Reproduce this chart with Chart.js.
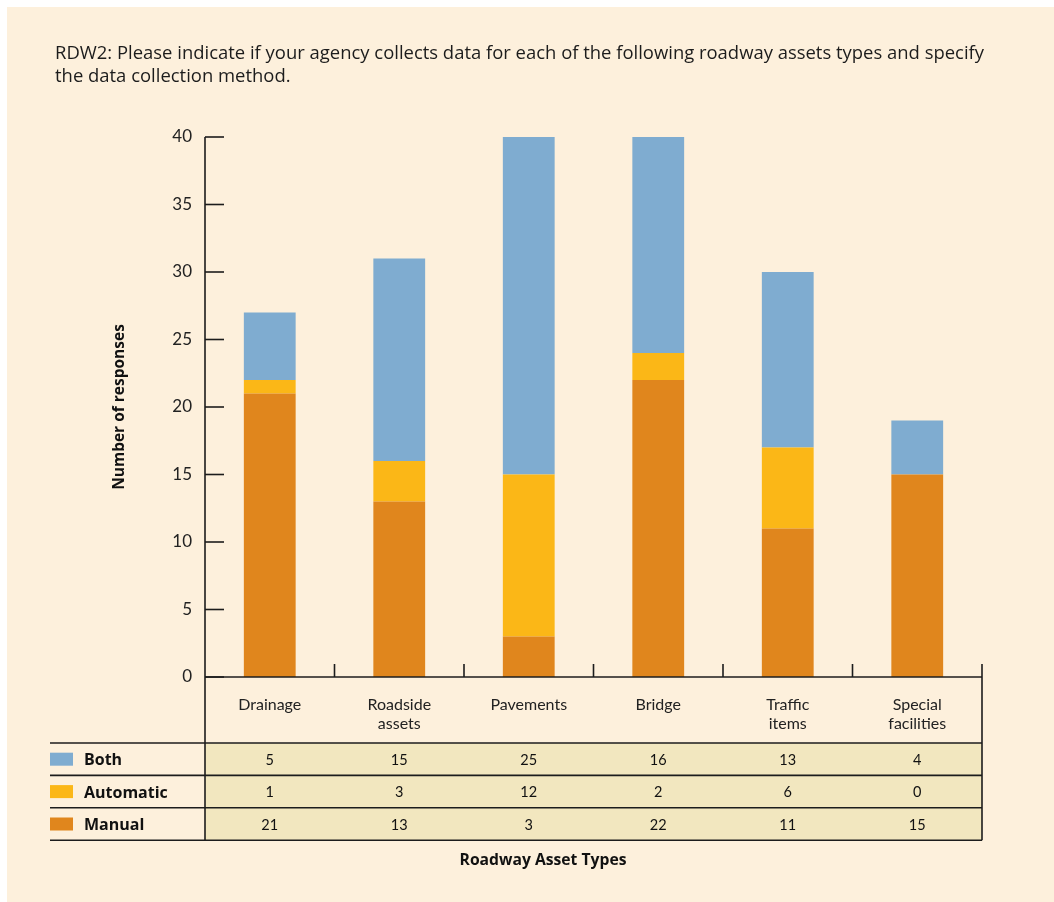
<!DOCTYPE html>
<html>
<head>
<meta charset="utf-8">
<script src="https://cdn.jsdelivr.net/npm/chart.js@4.4.1/dist/chart.umd.min.js"></script>
<style>
  html, body { margin: 0; padding: 0; background: #fff; }
  canvas { display: block; }
</style>
</head>
<body>
<canvas id="chart" width="1054" height="902"></canvas>
<script>
// ===== DATA =====
const categories = [['Drainage'], ['Roadside', 'assets'], ['Pavements'], ['Bridge'], ['Traffic', 'items'], ['Special', 'facilities']];
const both = [5, 15, 25, 16, 13, 4];
const automatic = [1, 3, 12, 2, 6, 0];
const manual = [21, 13, 3, 22, 11, 15];
const yMax = 40;
const yStep = 5;

const titleLines = [
  'RDW2: Please indicate if your agency collects data for each of the following roadway assets types and specify',
  'the data collection method.'
];
const xTitle = 'Roadway Asset Types';
const yTitle = 'Number of responses';

const COLORS = {
  both: '#7facd0',
  automatic: '#fbb717',
  manual: '#e0861d',
  bg: '#fdf0dc',
  cell: '#f2e7bf',
  ink: '#1c1c1c'
};
const FONT = 'Lato';
const FONT_WIDE = '"Open Sans"';

// table rows in display order (top to bottom)
const tableRows = [
  { label: 'Both', data: both, color: COLORS.both },
  { label: 'Automatic', data: automatic, color: COLORS.automatic },
  { label: 'Manual', data: manual, color: COLORS.manual }
];

// ===== PLUGIN: background, axes, data table =====
const tablePlugin = {
  id: 'tablePlugin',
  beforeDraw(chart) {
    const ctx = chart.ctx;
    ctx.save();
    ctx.fillStyle = '#fff';
    ctx.fillRect(0, 0, chart.width, chart.height);
    ctx.fillStyle = COLORS.bg;
    ctx.fillRect(7, 7, chart.width - 7, chart.height - 7);

    // title
    ctx.fillStyle = COLORS.ink;
    ctx.font = `18.45px ${FONT_WIDE}`;
    ctx.textAlign = 'left';
    ctx.textBaseline = 'alphabetic';
    titleLines.forEach((t, i) => ctx.fillText(t, 55, 59 + i * 23));

    // table cells
    const { left, right } = chart.chartArea;
    const rowTop = 743, rowH = 32.4;
    ctx.fillStyle = COLORS.cell;
    ctx.fillRect(left, rowTop, right - left, rowH * tableRows.length);
    ctx.restore();
  },
  afterDraw(chart) {
    const ctx = chart.ctx;
    const { left, right, top, bottom } = chart.chartArea;
    const x = chart.scales.x, y = chart.scales.y;
    const rowTop = 743, rowH = 32.4;
    const tableBottom = rowTop + rowH * tableRows.length;
    ctx.save();
    ctx.strokeStyle = COLORS.ink;
    ctx.lineWidth = 1.6;

    const line = (x1, y1, x2, y2) => {
      ctx.beginPath(); ctx.moveTo(x1, y1); ctx.lineTo(x2, y2); ctx.stroke();
    };

    // y axis through table, x axis
    line(left, top, left, tableBottom);
    line(left, bottom, right, bottom);
    // y tick marks pointing inward
    for (let v = 0; v <= yMax; v += yStep) {
      const py = y.getPixelForValue(v);
      line(left, py, left + 19, py);
    }
    // category boundary ticks pointing up
    const half = (x.getPixelForValue(1) - x.getPixelForValue(0)) / 2;
    categories.forEach((c, i) => {
      const px = x.getPixelForValue(i) + half;
      if (i === categories.length - 1) {
        line(px, bottom - 13, px, tableBottom);
      } else {
        line(px, bottom - 13, px, bottom);
      }
    });

    // row lines
    for (let r = 0; r <= tableRows.length; r++) {
      const py = rowTop + r * rowH;
      line(50, py, right, py);
    }

    // legend + values
    ctx.textBaseline = 'middle';
    tableRows.forEach((row, r) => {
      const cy = rowTop + r * rowH + rowH / 2;
      ctx.fillStyle = row.color;
      ctx.fillRect(50, cy - 6.5, 23, 13);
      ctx.fillStyle = '#111';
      ctx.font = `bold 16px ${FONT_WIDE}`;
      ctx.textAlign = 'left';
      ctx.fillText(row.label, 84, cy + 1.5);
      ctx.font = `14.5px ${FONT}`;
      ctx.textAlign = 'center';
      row.data.forEach((v, i) => {
        ctx.fillText(String(v), x.getPixelForValue(i), cy + 1);
      });
    });

    // x axis title
    ctx.font = `bold 15.7px ${FONT_WIDE}`;
    ctx.textAlign = 'center';
    ctx.fillText(xTitle, 543, 861);
    ctx.restore();
  }
};

// ===== CHART =====
new Chart(document.getElementById('chart'), {
  type: 'bar',
  data: {
    labels: categories,
    datasets: [
      { label: 'Manual', data: manual, backgroundColor: COLORS.manual },
      { label: 'Automatic', data: automatic, backgroundColor: COLORS.automatic },
      { label: 'Both', data: both, backgroundColor: COLORS.both }
    ].map(ds => ({ ...ds, borderWidth: 0, barPercentage: 0.4, categoryPercentage: 1 }))
  },
  options: {
    responsive: false,
    animation: false,
    layout: { padding: { top: 137, right: 72, left: 0, bottom: 0 } },
    plugins: {
      legend: { display: false },
      tooltip: { enabled: false }
    },
    scales: {
      x: {
        stacked: true,
        grid: { display: false, drawTicks: false },
        border: { display: false },
        ticks: {
          font: { family: FONT, size: 16 },
          color: '#222',
          padding: 18,
          maxRotation: 0,
          autoSkip: false
        },
        afterFit(scale) { scale.height = 225; }
      },
      y: {
        stacked: true,
        min: 0,
        max: yMax,
        grid: { display: false, drawTicks: false },
        border: { display: false },
        ticks: {
          stepSize: yStep,
          font: { family: FONT, size: 17 },
          color: '#222',
          padding: 13
        },
        title: {
          display: true,
          text: yTitle,
          font: { family: FONT_WIDE, size: 15.5, weight: 'bold' },
          color: '#111',
          padding: { top: 110, bottom: 110 }
        },
        afterFit(scale) { scale.width = 205; }
      }
    }
  },
  plugins: [tablePlugin]
});
</script>
</body>
</html>
